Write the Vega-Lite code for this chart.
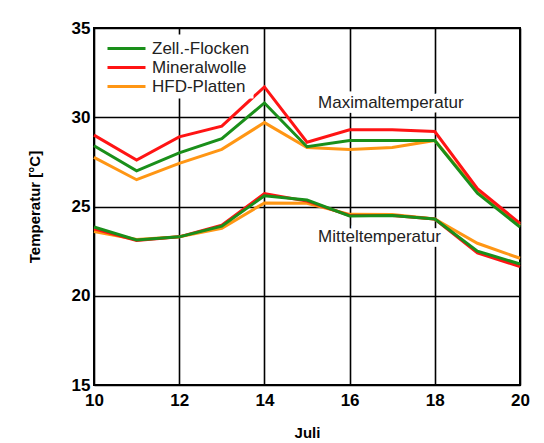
{
  "$schema": "https://vega.github.io/schema/vega-lite/v6.json",
  "width": 426,
  "height": 357,
  "autosize": {"type": "none"},
  "padding": {"left": 94, "top": 28, "right": 24, "bottom": 58},
  "background": "white",
  "config": {
    "font": "Liberation Sans",
    "view": {"stroke": "black", "strokeWidth": 2}
  },
  "datasets": {
    "temps": [
      {"day": 10, "series": "HFD-Platten", "kind": "Maximal", "t": 27.75},
      {"day": 11, "series": "HFD-Platten", "kind": "Maximal", "t": 26.5},
      {"day": 12, "series": "HFD-Platten", "kind": "Maximal", "t": 27.42},
      {"day": 13, "series": "HFD-Platten", "kind": "Maximal", "t": 28.2},
      {"day": 14, "series": "HFD-Platten", "kind": "Maximal", "t": 29.7},
      {"day": 15, "series": "HFD-Platten", "kind": "Maximal", "t": 28.3},
      {"day": 16, "series": "HFD-Platten", "kind": "Maximal", "t": 28.2},
      {"day": 17, "series": "HFD-Platten", "kind": "Maximal", "t": 28.3},
      {"day": 18, "series": "HFD-Platten", "kind": "Maximal", "t": 28.7},
      {"day": 19, "series": "HFD-Platten", "kind": "Maximal", "t": 25.85},
      {"day": 20, "series": "HFD-Platten", "kind": "Maximal", "t": 23.95},
      {"day": 10, "series": "HFD-Platten", "kind": "Mittel", "t": 23.6},
      {"day": 11, "series": "HFD-Platten", "kind": "Mittel", "t": 23.15},
      {"day": 12, "series": "HFD-Platten", "kind": "Mittel", "t": 23.3},
      {"day": 13, "series": "HFD-Platten", "kind": "Mittel", "t": 23.78},
      {"day": 14, "series": "HFD-Platten", "kind": "Mittel", "t": 25.2},
      {"day": 15, "series": "HFD-Platten", "kind": "Mittel", "t": 25.18},
      {"day": 16, "series": "HFD-Platten", "kind": "Mittel", "t": 24.56},
      {"day": 17, "series": "HFD-Platten", "kind": "Mittel", "t": 24.55},
      {"day": 18, "series": "HFD-Platten", "kind": "Mittel", "t": 24.3},
      {"day": 19, "series": "HFD-Platten", "kind": "Mittel", "t": 22.94},
      {"day": 20, "series": "HFD-Platten", "kind": "Mittel", "t": 22.1},
      {"day": 10, "series": "Mineralwolle", "kind": "Maximal", "t": 29.0},
      {"day": 11, "series": "Mineralwolle", "kind": "Maximal", "t": 27.6},
      {"day": 12, "series": "Mineralwolle", "kind": "Maximal", "t": 28.9},
      {"day": 13, "series": "Mineralwolle", "kind": "Maximal", "t": 29.5},
      {"day": 14, "series": "Mineralwolle", "kind": "Maximal", "t": 31.7},
      {"day": 15, "series": "Mineralwolle", "kind": "Maximal", "t": 28.6},
      {"day": 16, "series": "Mineralwolle", "kind": "Maximal", "t": 29.3},
      {"day": 17, "series": "Mineralwolle", "kind": "Maximal", "t": 29.3},
      {"day": 18, "series": "Mineralwolle", "kind": "Maximal", "t": 29.2},
      {"day": 19, "series": "Mineralwolle", "kind": "Maximal", "t": 26.0},
      {"day": 20, "series": "Mineralwolle", "kind": "Maximal", "t": 24.05},
      {"day": 10, "series": "Mineralwolle", "kind": "Mittel", "t": 23.75},
      {"day": 11, "series": "Mineralwolle", "kind": "Mittel", "t": 23.1},
      {"day": 12, "series": "Mineralwolle", "kind": "Mittel", "t": 23.3},
      {"day": 13, "series": "Mineralwolle", "kind": "Mittel", "t": 23.95},
      {"day": 14, "series": "Mineralwolle", "kind": "Mittel", "t": 25.72},
      {"day": 15, "series": "Mineralwolle", "kind": "Mittel", "t": 25.3},
      {"day": 16, "series": "Mineralwolle", "kind": "Mittel", "t": 24.5},
      {"day": 17, "series": "Mineralwolle", "kind": "Mittel", "t": 24.5},
      {"day": 18, "series": "Mineralwolle", "kind": "Mittel", "t": 24.3},
      {"day": 19, "series": "Mineralwolle", "kind": "Mittel", "t": 22.4},
      {"day": 20, "series": "Mineralwolle", "kind": "Mittel", "t": 21.63},
      {"day": 10, "series": "Zell.-Flocken", "kind": "Maximal", "t": 28.4},
      {"day": 11, "series": "Zell.-Flocken", "kind": "Maximal", "t": 27.0},
      {"day": 12, "series": "Zell.-Flocken", "kind": "Maximal", "t": 28.0},
      {"day": 13, "series": "Zell.-Flocken", "kind": "Maximal", "t": 28.8},
      {"day": 14, "series": "Zell.-Flocken", "kind": "Maximal", "t": 30.8},
      {"day": 15, "series": "Zell.-Flocken", "kind": "Maximal", "t": 28.35},
      {"day": 16, "series": "Zell.-Flocken", "kind": "Maximal", "t": 28.7},
      {"day": 17, "series": "Zell.-Flocken", "kind": "Maximal", "t": 28.7},
      {"day": 18, "series": "Zell.-Flocken", "kind": "Maximal", "t": 28.7},
      {"day": 19, "series": "Zell.-Flocken", "kind": "Maximal", "t": 25.75},
      {"day": 20, "series": "Zell.-Flocken", "kind": "Maximal", "t": 23.85},
      {"day": 10, "series": "Zell.-Flocken", "kind": "Mittel", "t": 23.85},
      {"day": 11, "series": "Zell.-Flocken", "kind": "Mittel", "t": 23.12},
      {"day": 12, "series": "Zell.-Flocken", "kind": "Mittel", "t": 23.3},
      {"day": 13, "series": "Zell.-Flocken", "kind": "Mittel", "t": 23.9},
      {"day": 14, "series": "Zell.-Flocken", "kind": "Mittel", "t": 25.6},
      {"day": 15, "series": "Zell.-Flocken", "kind": "Mittel", "t": 25.36},
      {"day": 16, "series": "Zell.-Flocken", "kind": "Mittel", "t": 24.47},
      {"day": 17, "series": "Zell.-Flocken", "kind": "Mittel", "t": 24.5},
      {"day": 18, "series": "Zell.-Flocken", "kind": "Mittel", "t": 24.3},
      {"day": 19, "series": "Zell.-Flocken", "kind": "Mittel", "t": 22.5},
      {"day": 20, "series": "Zell.-Flocken", "kind": "Mittel", "t": 21.78}
    ],
    "labels": [
      {"x": 15.26, "y": 30.8, "label": "Maximaltemperatur"},
      {"x": 15.26, "y": 23.29, "label": "Mitteltemperatur"}
    ]
  },
  "layer": [
    {
      "data": {"name": "labels"},
      "mark": {"type": "text", "align": "left", "baseline": "middle", "fontSize": 17, "font": "Liberation Sans", "color": "white", "stroke": "white", "strokeWidth": 9, "strokeJoin": "miter"},
      "encoding": {
        "x": {"field": "x", "type": "quantitative", "scale": {"domain": [10, 20], "padding": 0, "nice": false, "zero": false},
          "axis": {"values": [10, 12, 14, 16, 18, 20], "format": "d", "title": "Juli", "titleFontSize": 15, "titleFontWeight": "bold", "titleColor": "black", "titlePadding": 17, "labelFontSize": 17, "labelFontWeight": "bold", "labelColor": "black", "labelPadding": 7, "labelFlush": false, "labelOverlap": false, "ticks": false, "domain": false, "grid": true, "gridColor": "black", "gridWidth": 1.6, "gridOpacity": 1}},
        "y": {"field": "y", "type": "quantitative", "scale": {"domain": [15, 35], "padding": 0, "nice": false, "zero": false},
          "axis": {"values": [15, 20, 25, 30, 35], "format": "d", "title": "Temperatur [°C]", "titleFontSize": 15, "titleFontWeight": "bold", "titleColor": "black", "titlePadding": 29, "labelFontSize": 17, "labelFontWeight": "bold", "labelColor": "black", "labelPadding": 4, "labelOverlap": false, "ticks": false, "domain": false, "grid": true, "gridColor": "black", "gridWidth": 1.4, "gridOpacity": 1}},
        "text": {"field": "label"}
      }
    },
    {
      "data": {"name": "labels"},
      "mark": {"type": "text", "align": "left", "baseline": "middle", "fontSize": 17, "font": "Liberation Sans", "color": "#222222"},
      "encoding": {
        "x": {"field": "x", "type": "quantitative"},
        "y": {"field": "y", "type": "quantitative"},
        "text": {"field": "label"}
      }
    },
    {
      "data": {"name": "temps"},
      "mark": {"type": "line", "strokeWidth": 3, "strokeJoin": "miter"},
      "encoding": {
        "x": {"field": "day", "type": "quantitative"},
        "y": {"field": "t", "type": "quantitative"},
        "color": {"field": "series", "type": "nominal",
          "scale": {"domain": ["Zell.-Flocken", "Mineralwolle", "HFD-Platten"], "range": ["#1a8f1a", "#ff1414", "#ff9614"]},
          "legend": {"title": null, "orient": "none", "legendX": 18.5, "legendY": 6.5, "padding": 4, "fillColor": "white", "strokeColor": null, "symbolType": "M-2.235,0H2.235", "symbolSize": 289, "symbolStrokeWidth": 3, "labelFontSize": 17, "labelFont": "Liberation Sans", "labelColor": "#222222", "labelOffset": 15.5, "rowPadding": 1, "labelLimit": 300}},
        "detail": {"field": "kind"}
      }
    }
  ]
}
